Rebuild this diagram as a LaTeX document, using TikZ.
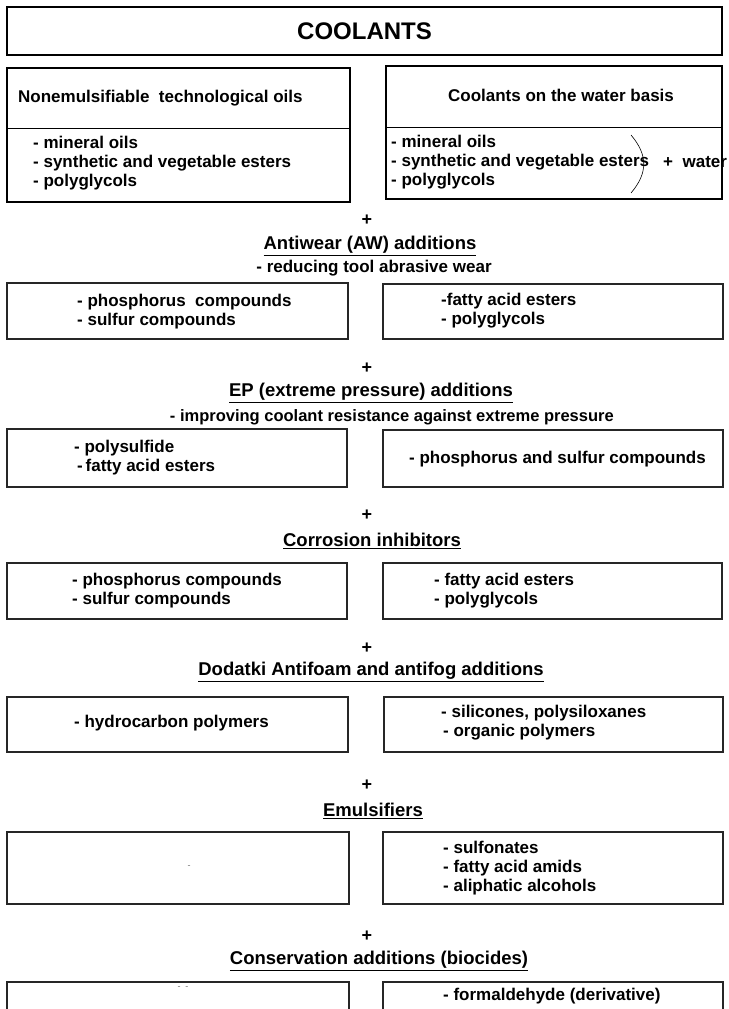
\documentclass[tikz,border=0pt]{standalone}
\usepackage{fontspec}
\setmainfont{Liberation Sans}
\usetikzlibrary{fit}
\begin{document}
\begin{tikzpicture}[x=1pt,y=-1pt,
  body/.style={font=\bfseries\fontsize{17}{19}\selectfont, inner sep=0pt, align=left},
  head/.style={font=\bfseries\fontsize{18.5}{20}\selectfont, inner sep=0pt},
  plus/.style={font=\bfseries\fontsize{18}{20}\selectfont, inner sep=0pt},
  thickbox/.style={draw, line width=1.8pt, inner sep=0pt},
  thinbox/.style={draw=black!85, line width=1.1pt, inner sep=0pt},
  faint/.style={font=\fontsize{9}{10}\selectfont, text=black!55, inner sep=0pt}]
\useasboundingbox (0,0) rectangle (728,1009);
\clip (0,0) rectangle (728,1009);
% title
\node[thickbox, fit={(7,7) (722,55)}] (title) {};
\node[font=\bfseries\fontsize{24}{26}\selectfont] (titletxt) at (title.center) {COOLANTS};
% top boxes
\node[thickbox, fit={(7,68) (350,202)}] (oil) {};
\draw[line width=0.8pt] (oil.west |- 0,128) -- (oil.east |- 0,128);
\node[body, anchor=west] (oilhead) at (18,98) {Nonemulsifiable\ \ technological oils};
\node[body, anchor=west] (oillist) at (33,163) {- mineral oils\\- synthetic and vegetable esters\\- polyglycols};
\node[thickbox, fit={(386,66) (722,199)}] (water) {};
\draw[line width=0.8pt] (water.west |- 0,127) -- (water.east |- 0,127);
\node[body] (waterhead) at (561,95) {Coolants on the water basis};
\node[body, anchor=west] (waterlist) at (391,162) {- mineral oils\\- synthetic and vegetable esters\\- polyglycols};
\draw[line width=0.6pt] (631,135) .. controls (648,155) and (648,173) .. (631,193);
\node[body, anchor=west] (pluswater) at (663,162) {+\ \ water};
% Antiwear
\node[plus] (p1) at (367,220) {+};
\node[head] (h1) at (370,246) {\underline{Antiwear (AW) additions}};
\node[body] (s1) at (374,268) {- reducing tool abrasive wear};
\node[thinbox, fit={(7,283) (348,339)}] (aw-l) {};
\node[thinbox, fit={(383,284) (723,339)}] (aw-r) {};
\node[body, anchor=west] (aw-lt) at (77,311.5) {- phosphorus\ \ compounds\\- sulfur compounds};
\node[body, anchor=west] (aw-rt) at (441,311) {-fatty acid esters\\- polyglycols};
% EP
\node[plus] (p2) at (367,368) {+};
\node[head] (h2) at (371,393) {\underline{EP (extreme pressure) additions}};
\node[body, font=\bfseries\fontsize{16.5}{19}\selectfont, anchor=east] (s2) at (614,417) {- improving coolant resistance against extreme pressure};
\node[thinbox, fit={(7,429) (347,487)}] (ep-l) {};
\node[thinbox, fit={(383,430) (723,487)}] (ep-r) {};
\node[body, anchor=west] (ep-lt) at (74,457.5) {- polysulfide\\\hspace*{3pt}-\,fatty acid esters};
\node[body, anchor=west] (ep-rt) at (409,459) {- phosphorus and sulfur compounds};
% Corrosion
\node[plus] (p3) at (367,515) {+};
\node[head] (h3) at (372,541) {\underline{Corrosion inhibitors}};
\node[thinbox, fit={(7,563) (347,619)}] (co-l) {};
\node[thinbox, fit={(383,563) (722,619)}] (co-r) {};
\node[body, anchor=west] (co-lt) at (72,590.5) {- phosphorus compounds\\- sulfur compounds};
\node[body, anchor=west] (co-rt) at (434,590.5) {- fatty acid esters\\- polyglycols};
% Antifoam
\node[plus] (p4) at (367,648) {+};
\node[head] (h4) at (371,672) {\underline{Dodatki Antifoam and antifog additions}};
\node[thinbox, fit={(7,697) (348,752)}] (af-l) {};
\node[thinbox, fit={(384,697) (723,752)}] (af-r) {};
\node[body, anchor=west] (af-lt) at (74,723) {- hydrocarbon polymers};
\node[body, anchor=west] (af-rt) at (441,723) {- silicones, polysiloxanes\\\hspace*{2pt}- organic polymers};
% Emulsifiers
\node[plus] (p5) at (367,785) {+};
\node[head] (h5) at (373,811) {\underline{Emulsifiers}};
\node[thinbox, fit={(7,832) (349,904)}] (em-l) {};
\node[thinbox, fit={(383,832) (723,904)}] (em-r) {};
\node[faint] (em-lt) at (189,867) {-};
\node[body, anchor=west] (em-rt) at (443,868.5) {- sulfonates\\- fatty acid amids\\- aliphatic alcohols};
% Conservation
\node[plus] (p6) at (367,936) {+};
\node[head] (h6) at (379,961) {\underline{Conservation additions (biocides)}};
\node[thinbox, fit={(7,982) (349,1030)}] (cn-l) {};
\node[thinbox, fit={(383,982) (723,1030)}] (cn-r) {};
\node[faint] (cn-lt) at (183,988) {-\ \ -};
\node[body, anchor=west] (cn-rt) at (443,996) {- formaldehyde (derivative)};
\end{tikzpicture}
\end{document}
